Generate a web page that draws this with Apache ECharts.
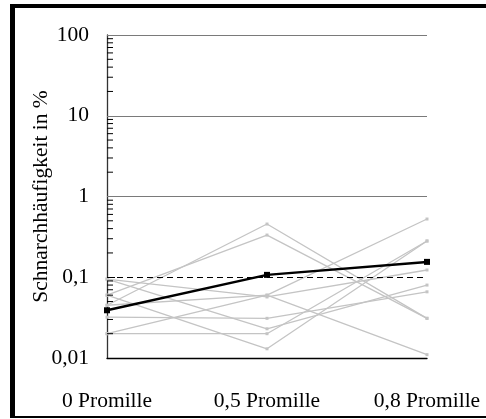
<!DOCTYPE html>
<html>
<head>
<meta charset="utf-8">
<script src="https://cdn.jsdelivr.net/npm/echarts@6/dist/echarts.min.js"></script>
<style>
  html, body { margin: 0; padding: 0; background: #fff; }
  #chart { width: 486px; height: 419px; position: absolute; left: 0; top: 0; }
  #frame { position: absolute; left: 10px; top: 4px; width: 520px; height: 408px;
           border-left: 5px solid #000; border-top: 4px solid #000; border-bottom: 2px solid #000;
           pointer-events: none; }
</style>
</head>
<body>
<div id="chart"></div>
<div id="frame"></div>
<script>
// Categories
const categories = ['0 Promille', '0,5 Promille', '0,8 Promille'];
// Individual (gray) series, values in %
const g1 = [0.045, 0.456, 0.031];
const g2 = [0.060, 0.333, 0.031];
const g3 = [0.095, 0.023, 0.080];
const g4 = [0.060, 0.013, 0.281];
const g5 = [0.020, 0.020, 0.281];
const g6 = [0.032, 0.031, 0.066];
const g7 = [0.020, 0.060, 0.526];
const g8 = [0.095, 0.057, 0.123];
const g9 = [0.045, 0.060, 0.011];
const grayLines = [g1, g2, g3, g4, g5, g6, g7, g8, g9];
// Mean (black) series
const mean = [0.039, 0.107, 0.155];
// Y ticks and labels
const yTicks = [0.01, 0.1, 1, 10, 100];
const yTickLabels = ['0,01', '0,1', '1', '10', '100'];
const gridValues = [1, 10, 100];
const refValue = 0.1;
// minor tick values (2..9 of each decade)
const minorTicks = [];
for (let d = 0; d < 4; d++) {
  const base = yTicks[d];
  for (let k = 2; k <= 9; k++) minorTicks.push(+(base * k).toPrecision(3));
}

const FONT = "'Liberation Serif', 'Times New Roman', serif";
const chart = echarts.init(document.getElementById('chart'), null, { renderer: 'canvas' });

const series = grayLines.map(arr => ({
  type: 'line',
  data: arr,
  symbol: 'rect',
  symbolSize: 3,
  showSymbol: true,
  itemStyle: { color: '#c4c4c4' },
  lineStyle: { color: '#c4c4c4', width: 1.3 },
  silent: true,
  z: 2
}));

series.push({
  type: 'line',
  data: mean,
  symbol: 'rect',
  symbolSize: 6,
  itemStyle: { color: '#000' },
  lineStyle: { color: '#000', width: 2.5 },
  z: 4,
  markLine: {
    silent: true,
    symbol: 'none',
    label: { show: false },
    data: gridValues.map(v => ({ yAxis: v, lineStyle: { color: '#7a7a7a', width: 1.2, type: 'solid' } }))
      .concat([{ yAxis: refValue, lineStyle: { color: '#000', width: 1.2, type: [6, 4] } }])
  }
});

series.push({
  type: 'custom',
  silent: true,
  data: minorTicks.map(v => [0, v]),
  renderItem: function (params, api) {
    const p = api.coord([0, api.value(1)]);
    return {
      type: 'line',
      shape: { x1: p[0], y1: p[1], x2: p[0] + 6, y2: p[1] },
      style: { stroke: '#000', lineWidth: 1 }
    };
  },
  z: 5
});

chart.setOption({
  animation: false,
  backgroundColor: 'transparent',
  grid: { left: 107, right: 59, top: 35, bottom: 61, containLabel: false },
  xAxis: {
    type: 'category',
    data: categories,
    boundaryGap: false,
    axisLine: { show: true, lineStyle: { color: '#000', width: 1.3 } },
    axisTick: { show: false },
    axisLabel: { fontFamily: FONT, fontSize: 21.5, color: '#000', margin: 32 },
    splitLine: { show: false }
  },
  yAxis: {
    type: 'log',
    logBase: 10,
    min: 0.01,
    max: 100,
    name: 'Schnarchhäufigkeit in %',
    nameLocation: 'middle',
    nameGap: 55,
    nameRotate: 90,
    nameMoveOverlap: false,
    nameTextStyle: { fontFamily: FONT, fontSize: 21.5, color: '#000' },
    axisLine: { show: true, lineStyle: { color: '#333', width: 1.3 } },
    axisTick: { show: true, inside: true, length: 8, lineStyle: { color: '#000', width: 1 } },
    axisLabel: {
      fontFamily: FONT, fontSize: 21.5, color: '#000', margin: 18,
      formatter: function (v) {
        for (let i = 0; i < yTicks.length; i++) {
          if (Math.abs(Math.log10(v) - Math.log10(yTicks[i])) < 1e-6) return yTickLabels[i];
        }
        return '';
      }
    },
    splitLine: { show: false },
    minorTick: { show: false }
  },
  series: series
});
</script>
</body>
</html>
